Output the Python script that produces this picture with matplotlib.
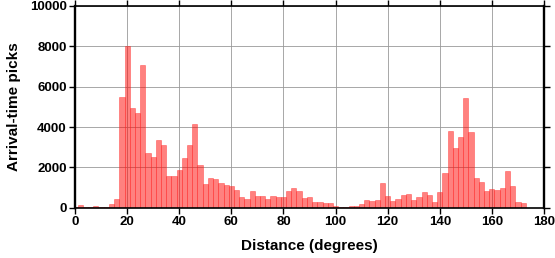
import numpy as np
import matplotlib
matplotlib.use("Agg")
import matplotlib.pyplot as plt

# bin centres (degrees), 2-degree bins
centers = list(range(0, 174, 2))
counts = [30, 120, 50, 20, 80, 30, 30, 180, 430, 5490,
          8000, 4940, 4690, 7070, 2690, 2510, 3340, 3090, 1550, 1550,
          1870, 2460, 3090, 4150, 2120, 1170, 1450, 1420, 1220, 1120,
          1070, 870, 530, 430, 830, 560, 580, 430, 580, 510,
          510, 830, 980, 810, 480, 530, 280, 280, 230, 230,
          80, 30, 30, 60, 80, 180, 380, 330, 380, 1220,
          580, 330, 430, 630, 680, 380, 530, 780, 630, 300,
          780, 1720, 3790, 2960, 3500, 5440, 3740, 1470, 1270, 830,
          930, 880, 980, 1820, 1070, 300, 230]

x_ticks = list(range(0, 181, 20))
y_ticks = list(range(0, 10001, 2000))

plt.rcParams['font.family'] = ['Liberation Sans', 'DejaVu Sans']
font_lab = {'size': 11, 'weight': 'bold'}

fig = plt.figure(figsize=(5.55, 2.58), dpi=100)
ax = fig.add_axes([75/555, 1-207.7/258, (544-75)/555, (207.7-6)/258])

ax.bar(centers, counts, width=2, color=(1, 0.02, 0, 0.5),
       edgecolor=(1, 0.15, 0.15, 0.45), linewidth=0.6, zorder=2)

ax.set_xlim(0, 180)
ax.set_ylim(0, 10000)
ax.set_xticks(x_ticks)
ax.set_yticks(y_ticks)
ax.grid(True, color='#999999', linewidth=0.6, zorder=0)
ax.set_axisbelow(True)

ax.tick_params(direction='out', length=4, width=1, top=True, right=True,
               labelsize=9.5, colors='black', pad=2)
for lab in ax.get_xticklabels() + ax.get_yticklabels():
    lab.set_fontweight('bold')

for side in ['left', 'right']:
    ax.spines[side].set_linewidth(1.7)
for side in ['top', 'bottom']:
    ax.spines[side].set_linewidth(1.2)

ax.set_xlabel("Distance (degrees)", fontdict=font_lab, labelpad=8)
ax.set_ylabel("Arrival-time picks", fontdict=font_lab, labelpad=6)

fig.savefig("out.png", dpi=100)
